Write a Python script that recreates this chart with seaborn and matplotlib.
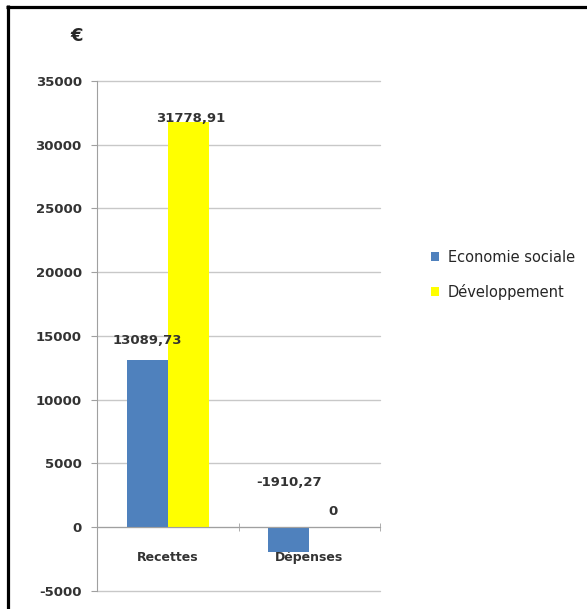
import pandas as pd
import seaborn as sns
import matplotlib
matplotlib.use("Agg")
import matplotlib.pyplot as plt
from matplotlib.lines import Line2D

categories = ["Recettes", "Dépenses"]
series = ["Economie sociale", "Développement"]
economie_sociale = [13089.73, -1910.27]
developpement = [31778.91, 0]
y_ticks = [-5000, 0, 5000, 10000, 15000, 20000, 25000, 30000, 35000]

colors = ["#4F81BD", "#FFFF00"]

df = pd.DataFrame({
    "cat": categories * 2,
    "serie": [series[0]] * 2 + [series[1]] * 2,
    "val": economie_sociale + developpement,
})

sns.set_style("white")
plt.rcParams["font.family"] = ["DejaVu Sans"]

fig = plt.figure(figsize=(5.87, 6.09), dpi=100)
ax = fig.add_axes([0.1653, 0.0296, 0.4821, 0.8374])

sns.barplot(data=df, x="cat", y="val", hue="serie", order=categories,
            hue_order=series, palette=colors, width=0.58, saturation=1,
            edgecolor="none", legend=True, ax=ax)

ax.set_xlim(-0.5, 1.5)
ax.set_ylim(y_ticks[0], y_ticks[-1])
ax.set_yticks(y_ticks)
ax.set_yticklabels([str(t) for t in y_ticks], fontsize=9.5, weight="bold", color="#333333")
ax.set_xlabel("")
ax.set_ylabel("")

ax.yaxis.grid(True, color="#c8c8c8", lw=1)
for gl in ax.get_ygridlines():
    gl.set_clip_on(False)
ax.set_axisbelow(True)
for s in ["top", "right"]:
    ax.spines[s].set_visible(False)
ax.spines["left"].set_color("#a0a0a0")
ax.spines["bottom"].set_color("#a0a0a0")
ax.spines["bottom"].set_position(("data", 0))

ax.tick_params(axis="y", direction="out", length=4, color="#a0a0a0", pad=7, left=True)
ax.tick_params(axis="x", which="major", length=0, pad=17, labelsize=9, labelcolor="#333333")
for lab in ax.get_xticklabels():
    lab.set_fontweight("bold")
ax.set_xticks([-0.5, 0.5, 1.5], minor=True)
ax.tick_params(axis="x", which="minor", direction="inout", length=6, color="#a0a0a0", bottom=True)

# value labels, offsets nudged to match the original placement
offsets = [[14, 32], [2.5, 11]]
for i, cont in enumerate(ax.containers):
    for j, bar in enumerate(cont):
        v = bar.get_height()
        txt = "0" if v == 0 else f"{v:.2f}".replace(".", ",")
        ax.annotate(txt, (bar.get_x() + bar.get_width() / 2, max(v, 0)),
                    xytext=(2 if i == 1 else 0, offsets[i][j]), textcoords="offset points",
                    ha="center", va="center", fontsize=9.5, weight="bold", color="#333333")

handles, labels = ax.get_legend_handles_labels()
ax.get_legend().remove()
fig.legend(handles, labels, loc="upper left", bbox_to_anchor=(431 / 587, 1 - 250 / 609),
           frameon=False, fontsize=10.5, borderpad=0, borderaxespad=0,
           handlelength=0.55, handleheight=0.55, handletextpad=0.6, labelspacing=1.3)

fig.text(77 / 587, 1 - 36 / 609, "€", ha="center", va="center", fontsize=13, weight="bold")

# black frame on top and left
fig.add_artist(Line2D([6 / 587, 1], [1 - 6.5 / 609] * 2, transform=fig.transFigure,
                      color="black", lw=2.3, solid_capstyle="butt"))
fig.add_artist(Line2D([7.5 / 587] * 2, [0, 1 - 5 / 609], transform=fig.transFigure,
                      color="black", lw=2.3, solid_capstyle="butt"))

fig.savefig("out.png", dpi=100)
